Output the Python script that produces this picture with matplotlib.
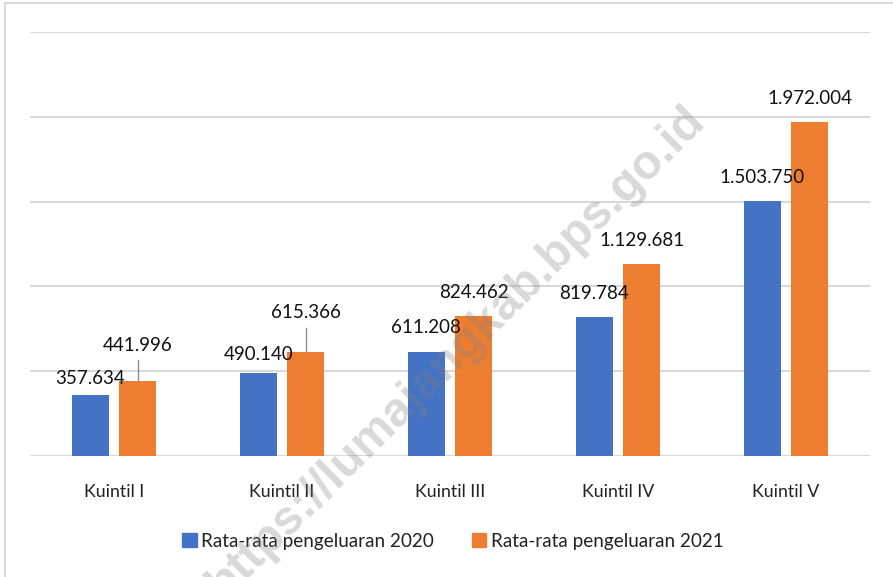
import numpy as np
import matplotlib.pyplot as plt
from matplotlib.lines import Line2D
from matplotlib.patches import Patch

kategori = ['Kuintil I', 'Kuintil II', 'Kuintil III', 'Kuintil IV', 'Kuintil V']
nilai_2020 = [357634, 490140, 611208, 819784, 1503750]
nilai_2021 = [441996, 615366, 824462, 1129681, 1972004]
label_2020 = ['357.634', '490.140', '611.208', '819.784', '1.503.750']
label_2021 = ['441.996', '615.366', '824.462', '1.129.681', '1.972.004']

biru = '#4472C4'
oranye = '#ED7D31'
abu = '#D9D9D9'

plt.rcParams['font.family'] = ['Lato', 'DejaVu Sans']

W, H = 893, 577
fig = plt.figure(figsize=(W / 100, H / 100), dpi=100)
ax = fig.add_axes([30 / W, 1 - 456 / H, 840 / W, (456 - 32) / H])

x = np.arange(len(kategori))
lebar = 0.22
geser = 0.142
ax.bar(x - geser, nilai_2020, lebar, color=biru, zorder=2)
ax.bar(x + geser, nilai_2021, lebar, color=oranye, zorder=2)

ax.set_xlim(-0.5, 4.5)
ax.set_ylim(0, 2500000)
ax.set_yticks(np.arange(0, 2500001, 500000))
ax.yaxis.grid(True, color=abu, linewidth=1.5, zorder=0)
ax.set_axisbelow(True)
for s in ax.spines.values():
    s.set_visible(False)
ax.tick_params(axis='y', left=False, labelleft=False)
ax.tick_params(axis='x', bottom=False, pad=17, labelsize=12.8, labelcolor='#222222')
ax.set_xticks(x)
ax.set_xticklabels(kategori)

# jarak vertikal label data dari puncak batang (piksel), meniru tata letak Excel
naik_2020 = [17, 18, 25, 23, 23]
naik_2021 = [36, 39, 24, 24, 23]
for i in range(len(kategori)):
    ax.annotate(label_2020[i], (x[i] - geser, nilai_2020[i]), xytext=(0, naik_2020[i]),
                textcoords='offset pixels', ha='center', va='center', fontsize=13.5,
                color='#111111', zorder=4)
    ax.annotate(label_2021[i], (x[i] + geser, nilai_2021[i]), xytext=(0, naik_2021[i]),
                textcoords='offset pixels', ha='center', va='center', fontsize=13.5,
                color='#111111', zorder=4)

# garis penunjuk untuk dua label yang terangkat
per_px = 2500000 / 424
for i in [0, 1]:
    xx = x[i] + geser
    ax.plot([xx, xx], [nilai_2021[i], nilai_2021[i] + (naik_2021[i] - 15) * per_px],
            color='#8c8c8c', linewidth=1, zorder=3)

handles = [Patch(color=biru), Patch(color=oranye)]
fig.legend(handles, ['Rata-rata pengeluaran 2020', 'Rata-rata pengeluaran 2021'],
           loc='center', bbox_to_anchor=(453 / W, 1 - 541 / H), ncol=2, frameon=False,
           fontsize=13.6, handlelength=0.75, handleheight=0.75, handletextpad=0.25,
           columnspacing=2.0, labelcolor='#222222')

# watermark (di gambar asli juga terpotong di tepi bawah)
fig.text(456 / W, 1 - 352 / H, 'https://lumajangkab.bps.go.id', rotation=44.7,
         ha='center', va='center', fontsize=34.5, fontweight='bold',
         family='Liberation Sans', color='#808080', alpha=0.3, zorder=10)

# bingkai
fig.add_artist(Line2D([5 / W, 5 / W], [0, 1 - 3 / H], color=abu, linewidth=1.5))
fig.add_artist(Line2D([5 / W, 1], [1 - 3 / H, 1 - 3 / H], color=abu, linewidth=1.5))

fig.savefig('out.png', dpi=100)
